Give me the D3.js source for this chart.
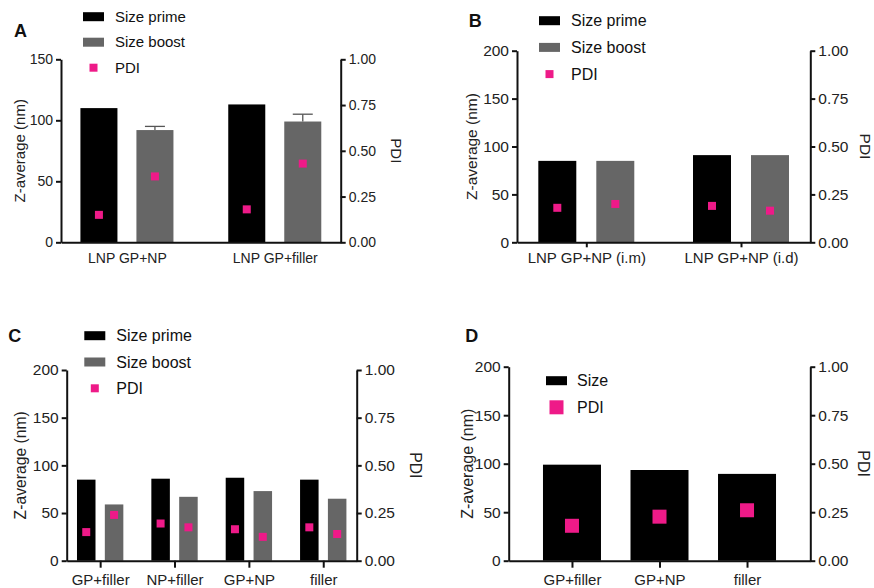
<!DOCTYPE html>
<html>
  <head>
    <meta charset="utf-8">
    <title></title>
    <style>
      body { margin: 0; background: #fff; }
      svg { display: block; font-family: "Liberation Sans", Arial, sans-serif; }
      .axis path, .axis line { stroke: #111; stroke-width: 2; }
      .axis text { fill: #222; }
    </style>
    <script src="https://cdnjs.cloudflare.com/ajax/libs/d3/7.8.5/d3.min.js"></script>
  </head>
  <body>
    <svg id="chart" width="874" height="588"></svg>
    <script>
// panel A
var groupsA = ["LNP GP+NP", "LNP GP+filler"];
var primeA = [110, 113];
var boostA = [92, 99];
var boostErrA = [3, 6];
var pdiPrimeA = [0.15, 0.18];
var pdiBoostA = [0.36, 0.43];

// panel B
var groupsB = ["LNP GP+NP (i.m)", "LNP GP+NP (i.d)"];
var primeB = [85, 91];
var boostB = [85, 91];
var pdiPrimeB = [0.18, 0.19];
var pdiBoostB = [0.2, 0.165];

// panel C
var groupsC = ["GP+filler", "NP+filler", "GP+NP", "filler"];
var primeC = [85, 86, 87, 85];
var boostC = [59, 67, 73, 65];
var pdiPrimeC = [0.15, 0.195, 0.165, 0.175];
var pdiBoostC = [0.24, 0.175, 0.125, 0.14];

// panel D
var groupsD = ["GP+filler", "GP+NP", "filler"];
var sizeD = [99, 93.5, 89.5];
var pdiD = [0.18, 0.227, 0.26];

var ticks150 = [0, 50, 100, 150];
var ticks200 = [0, 50, 100, 150, 200];
var pdiTicks = [0, 0.25, 0.5, 0.75, 1];

var black = "#000", grey = "#666", pink = "#ee1a88";

var svg = d3.select("#chart");

function series(name, values, color, pdi, err) {
  return { name: name, values: values, color: color, pdi: pdi, err: err || [] };
}

function panel(p) {
  var g = svg.append("g");
  var x0 = d3.scalePoint().domain(p.groups).range([p.left, p.right]).padding(p.pointPad);
  var x1 = d3.scaleBand().domain(p.series.map(function(s){ return s.name; }))
    .range([-p.barHalf, p.barHalf]).padding(p.barPad);
  var y = d3.scaleLinear().domain([0, p.yMax]).range([p.bottom, p.top]);
  var yr = d3.scaleLinear().domain([0, 1]).range([p.bottom, p.top]);

  p.series.forEach(function(s) {
    var bw = x1.bandwidth();
    g.selectAll(null).data(s.values).enter().append("rect")
      .attr("x", function(d, i){ return x0(p.groups[i]) + x1(s.name); })
      .attr("y", function(d){ return y(d); })
      .attr("width", bw)
      .attr("height", function(d){ return y(0) - y(d); })
      .attr("fill", s.color);

    s.err.forEach(function(e, i) {
      if (!e) return;
      var cx = x0(p.groups[i]) + x1(s.name) + bw / 2;
      g.append("line").attr("x1", cx).attr("x2", cx)
        .attr("y1", y(s.values[i])).attr("y2", y(s.values[i] + e))
        .attr("stroke", "#555").attr("stroke-width", 1.3);
      g.append("line").attr("x1", cx - bw * 0.27).attr("x2", cx + bw * 0.27)
        .attr("y1", y(s.values[i] + e)).attr("y2", y(s.values[i] + e))
        .attr("stroke", "#555").attr("stroke-width", 1.3);
    });
  });

  // PDI markers on right axis scale
  p.series.forEach(function(s) {
    var bw = x1.bandwidth();
    g.selectAll(null).data(s.pdi).enter().append("rect")
      .attr("x", function(d, i){ return x0(p.groups[i]) + x1(s.name) + bw / 2 - p.marker / 2; })
      .attr("y", function(d){ return yr(d) - p.marker / 2; })
      .attr("width", p.marker).attr("height", p.marker)
      .attr("fill", pink);
  });

  var ax = g.append("g").attr("class", "axis")
    .attr("transform", "translate(" + p.left + ",0)")
    .call(d3.axisLeft(y).tickValues(p.yTicks).tickSize(5).tickSizeOuter(0).tickPadding(3));
  ax.selectAll("text").style("font-size", p.tickFont + "px");

  var axr = g.append("g").attr("class", "axis")
    .attr("transform", "translate(" + p.right + ",0)")
    .call(d3.axisRight(yr).tickValues(pdiTicks).tickFormat(d3.format(".2f"))
      .tickSize(5).tickSizeOuter(0).tickPadding(3));
  axr.selectAll("text").style("font-size", p.tickFont + "px");

  var axb = g.append("g").attr("class", "axis")
    .attr("transform", "translate(0," + p.bottom + ")")
    .call(d3.axisBottom(x0).tickSize(p.xTick).tickSizeOuter(0).tickPadding(p.xPad));
  axb.selectAll("text").style("font-size", p.xFont + "px").attr("fill", "#111");

  // axis titles
  g.append("text")
    .attr("transform", "translate(" + p.ylabX + "," + (p.top + p.bottom) / 2 + ") rotate(-90)")
    .attr("text-anchor", "middle").attr("dy", "0.35em")
    .style("font-size", p.titleFont + "px").attr("fill", "#222")
    .text("Z-average (nm)");
  g.append("text")
    .attr("transform", "translate(" + p.pdiX + "," + (p.top + p.bottom) / 2 + ") rotate(90)")
    .attr("text-anchor", "middle").attr("dy", "0.35em")
    .style("font-size", p.titleFont + "px").attr("fill", "#222")
    .text("PDI");

  // panel letter
  g.append("text").attr("x", p.letterX).attr("y", p.letterY)
    .style("font-size", "18px").style("font-weight", "bold").attr("fill", "#111")
    .text(p.letter);

  // legend
  var items = p.series.map(function(s){ return { label: s.name, color: s.color, box: true }; });
  items.push({ label: "PDI", color: pink, box: false });
  var lg = g.selectAll(null).data(items).enter().append("g")
    .attr("transform", function(d, i){ return "translate(" + p.legX + "," + (p.legY + i * p.legDy) + ")"; });
  lg.append("rect")
    .attr("x", function(d){ return d.box ? 0 : 10.5 - p.marker / 2; })
    .attr("y", function(d){ return d.box ? -4.5 : -p.marker / 2; })
    .attr("width", function(d){ return d.box ? 21 : p.marker; })
    .attr("height", function(d){ return d.box ? 9 : p.marker; })
    .attr("fill", function(d){ return d.color; });
  lg.append("text").attr("x", p.legTextX).attr("dy", "0.35em")
    .style("font-size", p.legFont + "px").attr("fill", "#111")
    .text(function(d){ return d.label; });
}

panel({
  letter: "A", letterX: 14, letterY: 37,
  groups: groupsA,
  series: [series("Size prime", primeA, black, pdiPrimeA), series("Size boost", boostA, grey, pdiBoostA, boostErrA)],
  left: 61, right: 340.7, top: 59.3, bottom: 242.3, yMax: 150, yTicks: ticks150,
  pointPad: 0.446, barHalf: 65.5, barPad: 0.339, marker: 8,
  tickFont: 14, xFont: 14, titleFont: 15, xTick: 0, xPad: 11,
  ylabX: 20, pdiX: 396,
  legX: 83, legY: 16.7, legDy: 25.5, legTextX: 32, legFont: 15
});

panel({
  letter: "B", letterX: 468.7, letterY: 27,
  groups: groupsB,
  series: [series("Size prime", primeB, black, pdiPrimeB), series("Size boost", boostB, grey, pdiBoostB)],
  left: 517, right: 810.3, top: 50.7, bottom: 242.3, yMax: 200, yTicks: ticks200,
  pointPad: 0.448, barHalf: 68, barPad: 0.345, marker: 8,
  tickFont: 15.5, xFont: 15, titleFont: 15.5, xTick: 5, xPad: 5,
  ylabX: 472, pdiX: 865,
  legX: 539, legY: 20.7, legDy: 26.7, legTextX: 32, legFont: 16
});

panel({
  letter: "C", letterX: 8.3, letterY: 342,
  groups: groupsC,
  series: [series("Size prime", primeC, black, pdiPrimeC), series("Size boost", boostC, grey, pdiBoostC)],
  left: 66.7, right: 356.7, top: 370, bottom: 560.7, yMax: 200, yTicks: ticks200,
  pointPad: 0.45, barHalf: 32.5, barPad: 0.335, marker: 8,
  tickFont: 15.5, xFont: 15, titleFont: 15.7, xTick: 7, xPad: 6.5,
  ylabX: 20, pdiX: 415,
  legX: 84.3, legY: 335.7, legDy: 26.3, legTextX: 32, legFont: 16
});

panel({
  letter: "D", letterX: 465.3, letterY: 342,
  groups: groupsD,
  series: [series("Size", sizeD, black, pdiD)],
  left: 508.7, right: 810.3, top: 366.7, bottom: 560.7, yMax: 200, yTicks: ticks200,
  pointPad: 0.723, barHalf: 29, barPad: 0, marker: 14,
  tickFont: 15.5, xFont: 15, titleFont: 16, xTick: 7, xPad: 6.5,
  ylabX: 467, pdiX: 864,
  legX: 546, legY: 380.7, legDy: 26.6, legTextX: 31, legFont: 16
});
    </script>
  </body>
</html>
